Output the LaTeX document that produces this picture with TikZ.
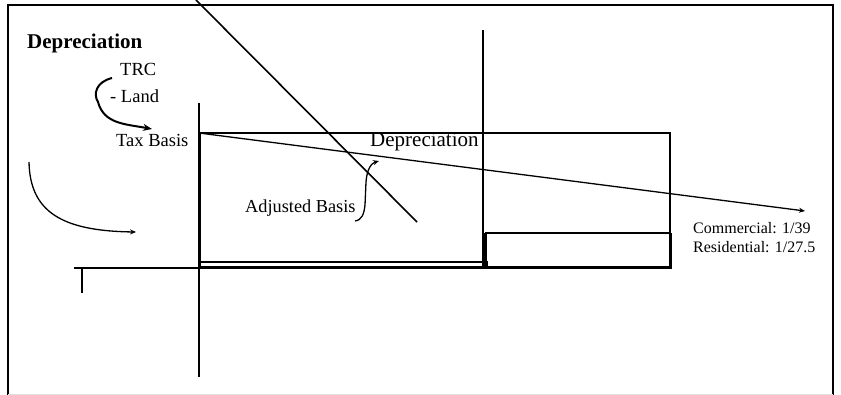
\documentclass[tikz,border=0pt]{standalone}
\usepackage{fontspec}
\setmainfont{Liberation Serif}
\usetikzlibrary{arrows.meta}
\tikzset{
  thinln/.style={line width=1.3pt,draw=black},
  thickln/.style={line width=3pt,draw=black},
  lbl/.style={inner sep=0pt,anchor=west,font=\fontsize{18.5}{20}\selectfont},
  tip/.style={-{Stealth[length=9pt,width=7pt]}},
  smalltip/.style={-{Stealth[length=6pt,width=5pt]}}
}
\begin{document}
\begin{tikzpicture}[x=1pt,y=-1pt]
\useasboundingbox (0,0) rectangle (841,395);
\fill[white] (0,0) rectangle (841,395);
% frame
\draw[line width=1.5pt] (8,395) -- (8,5) -- (833,5) -- (833,395);
\draw[line width=0.8pt,draw=black!12] (8,394) -- (833,394);
% coordinates
\coordinate (tb) at (199,133);
\coordinate (rt) at (670,133);
\coordinate (rb) at (670,268);
\coordinate (lb) at (199,268);
\coordinate (mid) at (485,268);
\coordinate (midtop) at (485,233);
\coordinate (rmid) at (670,233);
\coordinate (endarrow) at (805,211);
% axes and guide lines
\draw[thinln] (199,103) -- (199,377);
\draw[thinln] (483,30) -- (483,268);
\draw[thinln] (74,268) -- (lb);
\draw[thinln] (82,268) -- (82,293);
% big rectangle
\draw[thinln] (tb) -- (rt) -- (rmid);
\draw[thickln] (tb) -- (lb) -- (rb) -- (rmid);
% white bar
\draw[line width=1.6pt] (200,262) -- (487,262) -- (487,268);
% lower right box
\draw[thinln] (midtop) -- (rmid);
\draw[thickln] (midtop) -- (mid);
% declining depreciation line
\draw[thinln,smalltip] (tb) -- (endarrow);
% diagonal
\draw[line width=1.6pt] (196,0) -- (417,222);
% texts
\node[lbl,font=\fontsize{21}{23}\selectfont\bfseries] (hdr) at (27,43) {Depreciation};
\node[lbl] (trc) at (120,69) {TRC};
\node[lbl] (land) at (110,96) {- Land};
\node[lbl] (taxb) at (116,140) {Tax Basis};
\node[lbl,font=\fontsize{21}{23}\selectfont] (dep) at (370,142) {Depreciation};
\node[lbl,font=\fontsize{18.3}{20}\selectfont] (adj) at (245,208) {Adjusted Basis};
\node[lbl,font=\fontsize{16}{18}\selectfont] (comm) at (693,228) {Commercial: 1/39};
\node[lbl,font=\fontsize{16}{18}\selectfont] (resi) at (693,247) {Residential: 1/27.5};
% curly arrow TRC - Land -> Tax Basis
\coordinate (c1) at (112,78);
\coordinate (c2) at (152,129);
\draw[line width=2pt,tip] (c1) .. controls (96,82) and (93,94) .. (98,102)
  .. controls (104,124) and (125,124) .. (c2);
% left curved arrow
\coordinate (l1) at (29,162);
\coordinate (l2) at (136,232);
\draw[thinln,smalltip] (l1) .. controls (30,212) and (62,231) .. (l2);
% adjusted basis arrow
\coordinate (a1) at (355,221);
\coordinate (a2) at (379,161);
\draw[thinln,smalltip] (a1) .. controls (362,220) and (364,214) .. (365,205)
  -- (366,182) .. controls (367,168) and (372,163) .. (a2);
\end{tikzpicture}
\end{document}
